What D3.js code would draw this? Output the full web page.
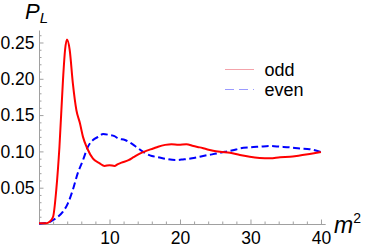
<!DOCTYPE html>
<html><head><meta charset="utf-8">
<script src="https://cdn.jsdelivr.net/npm/d3@7"></script>
<style>body{margin:0;background:#fff;}svg{display:block;font-family:"Liberation Sans",Arial,sans-serif;}</style>
</head><body>
<svg id="c" width="366" height="247"></svg>
<script>
const oddM2 = [0,1.0,1.5,2.0,2.45,2.9,3.4,3.7,3.97,4.35,4.8,5.3,5.8,6.24,6.85,7.66,8.6,9.3,10.0,10.7,11.2,11.7,12.7,13.4,14.3,15.3,16.2,16.9,17.9,18.8,19.8,20.9,21.9,22.8,23.8,24.7,25.7,27.1,28.5,29.9,31.3,32.8,34.2,35.6,37.0,38.4,40];
const oddP = [0.001,0.001,0.003,0.010,0.047,0.106,0.198,0.240,0.254,0.240,0.194,0.157,0.139,0.120,0.104,0.090,0.0835,0.080,0.081,0.080,0.0825,0.0845,0.088,0.092,0.097,0.101,0.104,0.1065,0.109,0.110,0.109,0.110,0.1075,0.1055,0.103,0.101,0.0995,0.098,0.095,0.0925,0.091,0.0905,0.092,0.0925,0.0945,0.0965,0.099];
const evenM2 = [0,1.3,2.0,2.7,3.4,4.1,4.8,5.5,6.24,6.95,7.66,8.4,9.1,10.0,10.7,11.2,12.2,13.1,14.1,15.0,16.0,16.9,18.1,19.3,20.5,21.7,22.8,24.0,25.2,26.4,27.5,28.5,29.9,31.3,32.8,34.2,35.6,37.0,38.4,40];
const evenP = [0.0005,0.002,0.0055,0.010,0.017,0.0285,0.047,0.070,0.088,0.1065,0.1157,0.120,0.124,0.1226,0.121,0.118,0.1157,0.111,0.104,0.098,0.0937,0.092,0.0895,0.088,0.089,0.0905,0.0927,0.095,0.097,0.0995,0.1015,0.104,0.1055,0.1065,0.1075,0.1065,0.1055,0.104,0.103,0.099];
const xMajor = [10,20,30,40];
const xMinor = d3.range(2,41,2).filter(v=>v%10!==0);
const yMajor = [0.05,0.10,0.15,0.20,0.25];
const yMinor = d3.range(1,27).map(i=>i/100).filter(v=>Math.round(v*100)%5!==0);
const legendLabels = ["odd","even"];

const svg = d3.select("#c");
const x = d3.scaleLinear().domain([0,40.6]).range([39,325.2]);
const y = d3.scaleLinear().domain([0,0.2672]).range([224,30]);
const axisCol = "#a0a0a0";

// x axis
const gx = svg.append("g").attr("transform","translate(0,224)");
gx.call(d3.axisBottom(x).tickValues(xMinor).tickSize(-2.5).tickFormat(""));
gx.select(".domain").remove();
gx.selectAll(".tick line").attr("stroke",axisCol);
const gx2 = svg.append("g").attr("transform","translate(0,224)");
gx2.call(d3.axisBottom(x).tickValues(xMajor).tickSizeInner(-4.5).tickSizeOuter(0).tickPadding(8).tickFormat(d3.format("d")));
gx2.select(".domain").attr("stroke",axisCol);
gx2.selectAll(".tick line").attr("stroke",axisCol);
gx2.selectAll(".tick text").attr("font-size","17.5px").attr("fill","#000").attr("font-family","Liberation Sans, Arial, sans-serif");

// y axis
const gy = svg.append("g").attr("transform","translate(39,0)");
gy.call(d3.axisLeft(y).tickValues(yMinor).tickSize(-2.5).tickFormat(""));
gy.select(".domain").remove();
gy.selectAll(".tick line").attr("stroke",axisCol);
const gy2 = svg.append("g").attr("transform","translate(39,0)");
gy2.call(d3.axisLeft(y).tickValues(yMajor).tickSizeInner(-4.5).tickSizeOuter(0).tickPadding(5).tickFormat(d3.format(".2f")));
gy2.select(".domain").attr("stroke",axisCol);
gy2.selectAll(".tick line").attr("stroke",axisCol);
gy2.selectAll(".tick text").attr("font-size","17.5px").attr("fill","#000").attr("font-family","Liberation Sans, Arial, sans-serif").attr("x",-4.5);

// lines
const line = d3.line().x(d=>x(d[0])).y(d=>y(d[1])).curve(d3.curveMonotoneX);
svg.append("path").datum(d3.zip(evenM2,evenP)).attr("d",line)
  .attr("fill","none").attr("stroke","#0000ff").attr("stroke-width",2).attr("stroke-dasharray","7,3.5");
svg.append("path").datum(d3.zip(oddM2,oddP)).attr("d",line)
  .attr("fill","none").attr("stroke","#ff0000").attr("stroke-width",2);

// axis labels
const pl = svg.append("text").attr("x",25).attr("y",19).attr("font-size","22px").attr("font-style","italic").attr("fill","#000");
pl.append("tspan").text("P");
pl.append("tspan").attr("font-size","15px").attr("dy",4).attr("dx",0).text("L");
const ml = svg.append("text").attr("x",334).attr("y",233).attr("font-size","23px").attr("font-style","italic").attr("fill","#000");
ml.append("tspan").text("m");
ml.append("tspan").attr("font-size","14px").attr("font-style","normal").attr("dy",-10).text("2");

// legend
const lg = svg.append("g");
const legCols = ["#f4a3aa","#9a9aff"];
legendLabels.forEach((t,i)=>{
  const yy = 69.5 + i*20;
  lg.append("line").attr("x1",225).attr("x2",254).attr("y1",yy).attr("y2",yy)
    .attr("stroke",legCols[i]).attr("stroke-width",1)
    .attr("stroke-dasharray", i===1 ? "9,5" : null);
  lg.append("text").attr("x",264.5).attr("y",yy+6.5).attr("font-size","18px").attr("fill","#000").text(t);
});
</script>
</body></html>
